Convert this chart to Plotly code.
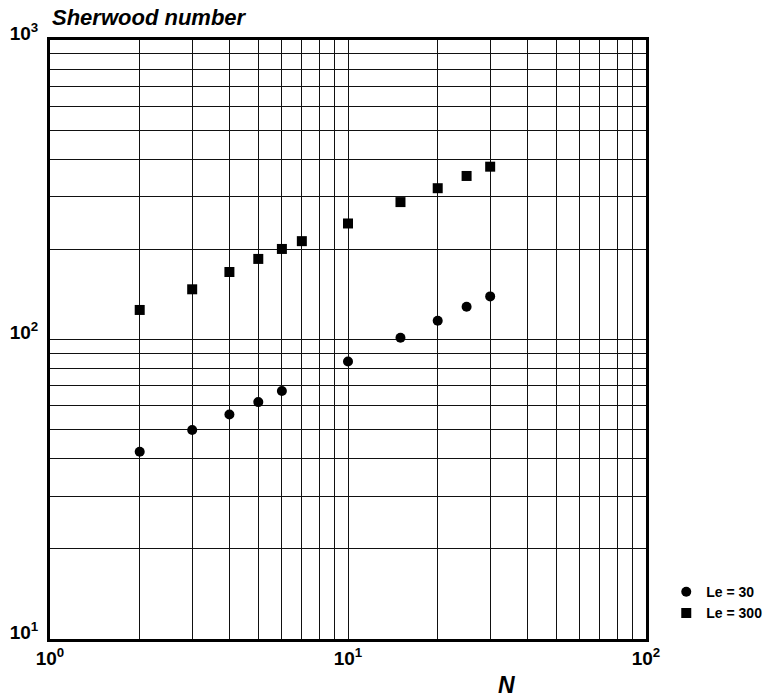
import plotly.graph_objects as go

# Data
n_le30 = [2, 3, 4, 5, 6, 10, 15, 20, 25, 30]
sh_le30 = [42.2, 49.9, 56.2, 61.8, 67.3, 84.4, 101.4, 115.5, 128.7, 139.3]

n_le300 = [2, 3, 4, 5, 6, 7, 10, 15, 20, 25, 30]
sh_le300 = [125.5, 147.1, 168, 185.8, 200.6, 213, 244, 287.6, 320, 351.6, 377.6]

x_major = [1, 10, 100]
x_major_text = ["10<sup>0</sup>", "10<sup>1</sup>", "10<sup>2</sup>"]
y_major = [10, 100, 1000]
y_major_text = ["10<sup>1</sup>", "10<sup>2</sup>", "10<sup>3</sup>"]
x_minor = [2, 3, 4, 5, 6, 7, 8, 9, 20, 30, 40, 50, 60, 70, 80, 90]
y_minor = [20, 30, 40, 50, 60, 70, 80, 90, 200, 300, 400, 500, 600, 700, 800, 900]

FONT = "Liberation Sans, Arial, Helvetica, sans-serif"

fig = go.Figure()
fig.add_trace(go.Scatter(
    x=n_le30, y=sh_le30, mode="markers", name="Le = 30",
    marker=dict(symbol="circle", size=10, color="black", line=dict(width=0)),
))
fig.add_trace(go.Scatter(
    x=n_le300, y=sh_le300, mode="markers", name="Le = 300",
    marker=dict(symbol="square", size=10, color="black", line=dict(width=0)),
))

grid_color = "#111111"
axis_common = dict(
    type="log",
    showline=True, linewidth=3, linecolor="black", mirror=True,
    showgrid=True, gridcolor=grid_color, gridwidth=1.4,
    ticks="", tickmode="array",
    tickfont=dict(family=FONT, size=19, color="black", weight="bold"),
    zeroline=False,
)

fig.update_xaxes(
    **axis_common,
    range=[0, 2],
    tickvals=x_major, ticktext=x_major_text,
    ticklabelstandoff=0,
    minor=dict(tickmode="array", tickvals=x_minor, showgrid=True,
               gridcolor=grid_color, gridwidth=1.4, ticks=""),
)
fig.update_yaxes(
    **axis_common,
    range=[1, 3],
    tickvals=y_major, ticktext=y_major_text,
    ticklabelshift=-7, ticklabelstandoff=5,
    minor=dict(tickmode="array", tickvals=y_minor, showgrid=True,
               gridcolor=grid_color, gridwidth=1.4, ticks=""),
)

fig.update_layout(
    width=768, height=699,
    margin=dict(l=50, r=122, t=40, b=60, autoexpand=False),
    paper_bgcolor="white", plot_bgcolor="white",
    font=dict(family=FONT, color="black"),
    title=dict(
        text="<b><i>Sherwood number</i></b>",
        font=dict(family=FONT, size=22, color="black"),
        xref="container", x=52 / 768, xanchor="left",
        yref="container", y=1 - 17 / 699, yanchor="middle",
    ),
    showlegend=True,
    legend=dict(
        x=1.034, xanchor="left", y=0.105, yanchor="top",
        font=dict(family=FONT, size=14, color="black", weight="bold"),
        bgcolor="rgba(0,0,0,0)", itemwidth=30, tracegroupgap=0,
    ),
    annotations=[
        dict(text="<b><i>N</i></b>", xref="paper", yref="paper",
             x=(506 - 50) / 596, y=-(685 - 639) / 599,
             xanchor="center", yanchor="middle", showarrow=False,
             font=dict(family=FONT, size=23, color="black")),
    ],
)

fig.write_html("out.html")
